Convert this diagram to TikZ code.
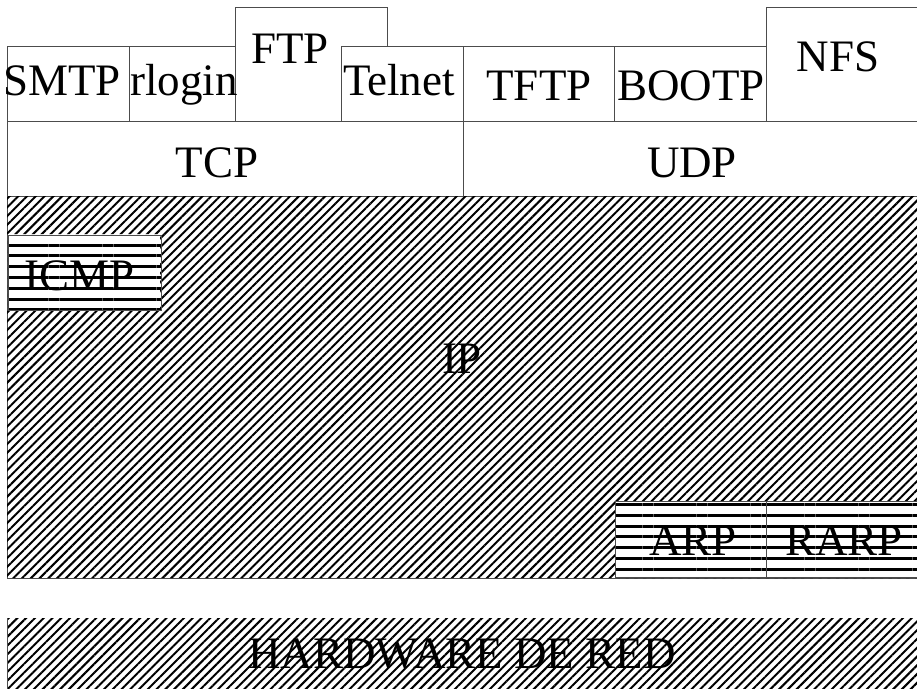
\documentclass[tikz,border=0pt]{standalone}
\usepackage{fontspec}
\setmainfont{Liberation Serif}
\usetikzlibrary{patterns.meta}
\begin{document}
\begin{tikzpicture}[x=1pt,y=-1pt,
  box/.style={draw=black!70,line width=0.8pt,rectangle,inner sep=0pt,anchor=north west},
  lbl/.style={anchor=base,inner sep=0pt,font=\fontsize{45}{54}\selectfont},
  diag/.style={pattern={Lines[angle=45,distance=6.2pt,line width=2pt]}},
  horiz/.style={pattern={Lines[angle=0,distance=10.8pt,line width=3pt]}}]
\useasboundingbox (0,0) rectangle (917,688);
% application layer
\node[box,minimum width=122,minimum height=75] (smtp) at (7,46) {};
\node[box,minimum width=106,minimum height=75] (rlogin) at (129,46) {};
\node[box,minimum width=152,minimum height=114] (ftp) at (235,7) {};
\node[box,fill=white,minimum width=122,minimum height=75] (telnet) at (341,46) {};
\node[box,minimum width=151,minimum height=75] (tftp) at (463,46) {};
\node[box,minimum width=152,minimum height=75] (bootp) at (614,46) {};
\node[box,minimum width=151,minimum height=114] (nfs) at (766,7) {};
\node[lbl] (tsmtp) at (62,95) {SMTP};
\node[lbl] (trlogin) at (184,95) {rlogin};
\node[lbl] (tftp2) at (290,63) {FTP};
\node[lbl] (ttelnet) at (399,95) {Telnet};
\node[lbl] (ttftp) at (539,100) {TFTP};
\node[lbl] (tbootp) at (691,100) {BOOTP};
\node[lbl] (tnfs) at (838,71) {NFS};
% transport layer
\node[box,minimum width=456,minimum height=75] (tcp) at (7,121) {};
\node[box,minimum width=454,minimum height=75] (udp) at (463,121) {};
\node[lbl] (ttcp) at (217,177) {TCP};
\node[lbl] (tudp) at (692,177) {UDP};
% IP layer
\node[box,minimum width=910,minimum height=382] (ip) at (7,196) {};
\node[lbl] (tip) at (462,373) {IP};
\node[lbl] (ticmp) at (80,290) {ICMP};
\node[lbl] (tarp) at (693,555) {ARP};
\node[lbl] (trarp) at (844,555) {RARP};
\path[diag,even odd rule] (7,196) rectangle (917,578) (7,234) rectangle (160,309) (615,501) rectangle (917,577);
\node[box,horiz,minimum width=153,minimum height=75] (icmp) at (7,234) {};
\node[box,horiz,minimum width=151,minimum height=76] (arp) at (615,501) {};
\node[box,horiz,minimum width=151,minimum height=76] (rarp) at (766,501) {};
% hardware
\node[lbl] (thw) at (462,668) {HARDWARE DE RED};
\node[box,diag,draw=none,minimum width=910,minimum height=70] (hw) at (7,618) {};
\draw[black!70,line width=0.8pt] (hw.north west) -- (hw.south west);
\end{tikzpicture}
\end{document}
